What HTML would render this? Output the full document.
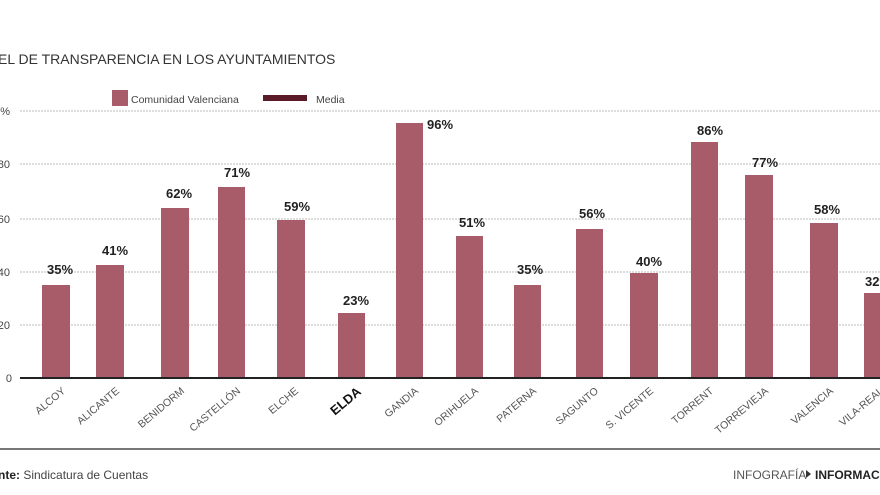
<!DOCTYPE html>
<html><head><meta charset="utf-8"><style>
body{margin:0;background:#fff;}
svg{display:block;font-family:"Liberation Sans","DejaVu Sans",sans-serif;}
</style></head><body>
<svg width="880" height="495" viewBox="0 0 880 495">
<rect width="880" height="495" fill="#fff"/>
<text x="-2" y="64" font-size="14" fill="#333">EL DE TRANSPARENCIA EN LOS AYUNTAMIENTOS</text>
<rect x="112" y="90" width="16" height="16" fill="#a85c6a"/>
<text x="131" y="103" font-size="10.5" fill="#444">Comunidad Valenciana</text>
<rect x="263" y="95" width="44" height="6" fill="#5a1a28"/>
<text x="316" y="103" font-size="10.5" fill="#444">Media</text>
<g stroke="#bbb" stroke-width="1" stroke-dasharray="2,1">
<line x1="20" y1="111" x2="880" y2="111"/>
<line x1="20" y1="164" x2="880" y2="164"/>
<line x1="20" y1="219" x2="880" y2="219"/>
<line x1="20" y1="272" x2="880" y2="272"/>
<line x1="20" y1="325" x2="880" y2="325"/>
</g>
<g font-size="11" fill="#444" text-anchor="end">
<text x="10" y="115">%</text><text x="10" y="168">80</text><text x="10" y="223">60</text><text x="10" y="276">40</text><text x="10" y="329">20</text><text x="12" y="382">0</text>
</g>
<g fill="#a85c6a">
<rect x="42" y="285" width="28" height="93"/>
<rect x="96" y="265" width="28" height="113"/>
<rect x="161" y="208" width="28" height="170"/>
<rect x="218" y="187" width="27" height="191"/>
<rect x="277" y="220" width="28" height="158"/>
<rect x="338" y="313" width="27" height="65"/>
<rect x="396" y="123" width="27" height="255"/>
<rect x="456" y="236" width="27" height="142"/>
<rect x="514" y="285" width="27" height="93"/>
<rect x="576" y="229" width="27" height="149"/>
<rect x="630" y="273" width="28" height="105"/>
<rect x="691" y="142" width="27" height="236"/>
<rect x="745" y="175" width="28" height="203"/>
<rect x="810" y="223" width="28" height="155"/>
<rect x="864" y="293" width="20" height="85"/>
</g>
<line x1="20" y1="378" x2="880" y2="378" stroke="#222" stroke-width="2"/>
<g font-size="13" font-weight="bold" fill="#222" text-anchor="middle">
<text x="60" y="274">35%</text><text x="115" y="255">41%</text><text x="179" y="198">62%</text>
<text x="237" y="177">71%</text><text x="297" y="211">59%</text><text x="356" y="305">23%</text>
<text x="440" y="129">96%</text><text x="472" y="227">51%</text><text x="530" y="274">35%</text>
<text x="592" y="218">56%</text><text x="649" y="266">40%</text><text x="710" y="135">86%</text>
<text x="765" y="167">77%</text><text x="827" y="214">58%</text><text x="878" y="286">32%</text>
</g>
<g font-size="10.5" fill="#555" text-anchor="end">
<text transform="translate(66,392) rotate(-40)">ALCOY</text>
<text transform="translate(120,392) rotate(-40)">ALICANTE</text>
<text transform="translate(185,392) rotate(-40)">BENIDORM</text>
<text transform="translate(241,392) rotate(-40)">CASTELLÓN</text>
<text transform="translate(299,392) rotate(-40)">ELCHE</text>
<text transform="translate(362,393) rotate(-40)" font-size="13" font-weight="bold" fill="#111">ELDA</text>
<text transform="translate(419,392) rotate(-40)">GANDIA</text>
<text transform="translate(479,392) rotate(-40)">ORIHUELA</text>
<text transform="translate(537,392) rotate(-40)">PATERNA</text>
<text transform="translate(599,392) rotate(-40)">SAGUNTO</text>
<text transform="translate(654,392) rotate(-40)">S. VICENTE</text>
<text transform="translate(714,392) rotate(-40)">TORRENT</text>
<text transform="translate(769,392) rotate(-40)">TORREVIEJA</text>
<text transform="translate(834,392) rotate(-40)">VALENCIA</text>
<text transform="translate(884,392) rotate(-40)">VILA-REAL</text>
</g>
<line x1="0" y1="449" x2="880" y2="449" stroke="#777" stroke-width="2"/>
<text x="-2" y="479" font-size="12" fill="#444"><tspan font-weight="bold" fill="#222">nte:</tspan> Sindicatura de Cuentas</text>
<text x="733" y="479" font-size="12" fill="#555">INFOGRAFÍA</text>
<polygon points="806,470 806,478 811,474" fill="#333"/>
<text x="815" y="479" font-size="12" font-weight="bold" fill="#222">INFORMACIÓN</text>
</svg>
</body></html>
